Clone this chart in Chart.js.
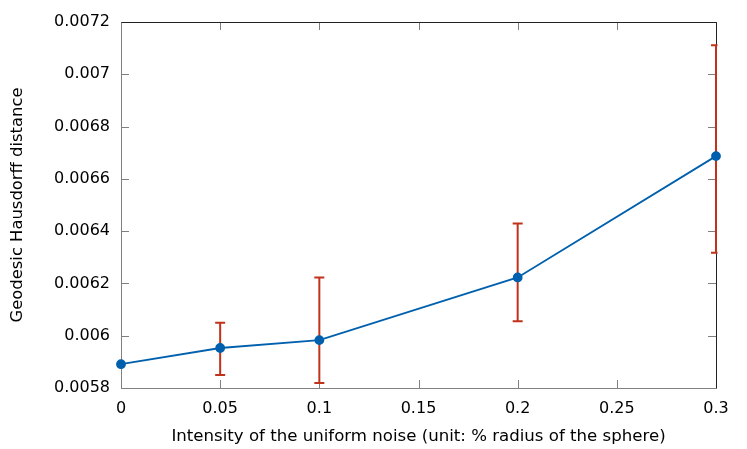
<!DOCTYPE html>
<html>
<head>
<meta charset="utf-8">
<script src="https://cdn.jsdelivr.net/npm/chart.js@4.4.1/dist/chart.umd.min.js"></script>
<style>
  html, body { margin: 0; padding: 0; background: #fff; }
  #wrap { width: 747px; height: 449px; }
</style>
</head>
<body>
<div id="wrap"><canvas id="hausdorffChart"></canvas></div>
<script>
// noise intensity vs geodesic Hausdorff distance, with error bars
const noiseLevels = [0, 0.05, 0.1, 0.2, 0.3];
const meanDistance = [0.005891, 0.005953, 0.005983, 0.006223, 0.006687];
const errLow = [null, 0.00585, 0.005819, 0.006055, 0.006317];
const errHigh = [null, 0.00605, 0.006223, 0.006429, 0.007111];
const xTicks = [0, 0.05, 0.1, 0.15, 0.2, 0.25, 0.3];
const yTicks = [0.0058, 0.006, 0.0062, 0.0064, 0.0066, 0.0068, 0.007, 0.0072];

const FONT = 'DejaVu Sans';

// error bars, drawn under the line
const errorBars = {
    id: 'errorBars',
    beforeDatasetsDraw(chart) {
        const ctx = chart.ctx;
        const x = chart.scales.x, y = chart.scales.y;
        const area = chart.chartArea;
        ctx.save();
        ctx.beginPath();
        ctx.rect(area.left, area.top - 2, area.right - area.left + 1.5, area.bottom - area.top + 4);
        ctx.clip();
        ctx.strokeStyle = '#c0321a';
        ctx.lineWidth = 2;
        noiseLevels.forEach((n, i) => {
            if (errLow[i] == null) return;
            const px = x.getPixelForValue(n);
            const top = y.getPixelForValue(errHigh[i]);
            const bot = y.getPixelForValue(errLow[i]);
            ctx.beginPath();
            ctx.moveTo(px, top); ctx.lineTo(px, bot);
            ctx.moveTo(px - 5, top); ctx.lineTo(px + 5, top);
            ctx.moveTo(px - 5, bot); ctx.lineTo(px + 5, bot);
            ctx.stroke();
        });
        ctx.restore();
    }
};

// gnuplot style frame with inward ticks on all four sides
const frame = {
    id: 'frame',
    beforeDatasetsDraw(chart) {
        const ctx = chart.ctx;
        const a = chart.chartArea;
        const x = chart.scales.x, y = chart.scales.y;
        ctx.save();
        ctx.lineWidth = 1;
        ctx.strokeStyle = '#808080';
        xTicks.forEach(t => {
            const px = Math.round(x.getPixelForValue(t)) + 0.5;
            ctx.beginPath();
            ctx.moveTo(px, a.bottom); ctx.lineTo(px, a.bottom - 8);
            ctx.moveTo(px, a.top); ctx.lineTo(px, a.top + 8);
            ctx.stroke();
        });
        yTicks.forEach(t => {
            const py = Math.round(y.getPixelForValue(t)) + 0.5;
            ctx.beginPath();
            ctx.moveTo(a.left, py); ctx.lineTo(a.left + 8, py);
            ctx.moveTo(a.right, py); ctx.lineTo(a.right - 8, py);
            ctx.stroke();
        });
        const l = Math.round(a.left) + 0.5, r = Math.round(a.right) + 0.5;
        const t = Math.round(a.top) + 0.5, b = Math.round(a.bottom) + 0.5;
        ctx.strokeStyle = '#808080';
        ctx.beginPath();
        ctx.moveTo(l, t); ctx.lineTo(l, b); ctx.lineTo(r, b);
        ctx.stroke();
        ctx.strokeStyle = '#222';
        ctx.beginPath();
        ctx.moveTo(l, t); ctx.lineTo(r, t); ctx.lineTo(r, b);
        ctx.stroke();
        ctx.restore();
    }
};

function initChart() {
    const ctx = document.getElementById('hausdorffChart');
    new Chart(ctx, {
        type: 'scatter',
        data: {
            datasets: [{
                data: noiseLevels.map((n, i) => ({ x: n, y: meanDistance[i] })),
                showLine: true,
                borderColor: '#0060ad',
                backgroundColor: '#0060ad',
                borderWidth: 1.8,
                pointRadius: 4,
                pointHoverRadius: 4,
                clip: false
            }]
        },
        options: {
            responsive: true,
            maintainAspectRatio: false,
            animation: false,
            layout: { padding: { top: 22, right: 31, left: 0, bottom: 0 } },
            plugins: {
                legend: { display: false },
                tooltip: { enabled: false }
            },
            scales: {
                x: {
                    type: 'linear',
                    min: 0,
                    max: 0.3,
                    afterBuildTicks: s => { s.ticks = xTicks.map(v => ({ value: v })); },
                    afterFit: s => { s.height = 61; },
                    grid: { display: false, drawTicks: false },
                    border: { display: false },
                    ticks: {
                        color: '#000',
                        padding: 11,
                        maxRotation: 0,
                        font: { family: FONT, size: 16 },
                        callback: v => String(v)
                    },
                    title: {
                        display: true,
                        text: 'Intensity of the uniform noise (unit: % radius of the sphere)',
                        color: '#000',
                        font: { family: FONT, size: 16.6 },
                        padding: { top: 2, bottom: 2 }
                    }
                },
                y: {
                    min: 0.0058,
                    max: 0.0072,
                    afterBuildTicks: s => { s.ticks = yTicks.map(v => ({ value: v })); },
                    afterFit: s => { s.width = 121; },
                    grid: { display: false, drawTicks: false },
                    border: { display: false },
                    ticks: {
                        color: '#000',
                        padding: 11,
                        font: { family: FONT, size: 16 },
                        callback: v => String(parseFloat(v.toFixed(6)))
                    },
                    title: {
                        display: true,
                        text: 'Geodesic Hausdorff distance',
                        color: '#000',
                        font: { family: FONT, size: 16.4 },
                        padding: { top: 7.5, bottom: 7.5 }
                    }
                }
            }
        },
        plugins: [frame, errorBars]
    });
}

document.addEventListener('DOMContentLoaded', initChart);
</script>
</body>
</html>
